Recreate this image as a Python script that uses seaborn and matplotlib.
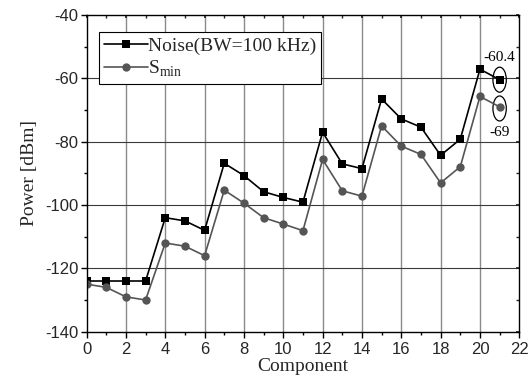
import matplotlib
matplotlib.use("Agg")
import matplotlib.pyplot as plt
from matplotlib.patches import Ellipse
from matplotlib.ticker import MultipleLocator
import numpy as np
import pandas as pd
import seaborn as sns

components = list(range(22))
noise = [-124, -124, -124, -124, -104, -105, -108, -86.8, -90.7, -95.8, -97.6, -99.1,
         -77.0, -87.0, -88.5, -66.5, -72.8, -75.4, -84.3, -79.2, -57.1, -60.4]
smin = [-125, -126, -129, -130, -112, -113, -116, -95.3, -99.4, -104, -106, -108.1,
        -85.6, -95.5, -97.2, -75.0, -81.4, -84.0, -93.0, -87.9, -65.7, -69.0]
series_names = ["Noise(BW=100 kHz)", "S$_\\mathregular{min}$"]
annot_labels = ["-60.4", "-69"]

df = pd.DataFrame({
    "Component": components * 2,
    "Power": noise + smin,
    "Series": [series_names[0]] * len(noise) + [series_names[1]] * len(smin),
})

sns.set_theme(style="white")
plt.rcParams["font.family"] = ["Liberation Sans", "DejaVu Sans"]
plt.rcParams["axes.unicode_minus"] = False

fig = plt.figure(figsize=(5.28, 3.87), dpi=100)
ax = fig.add_axes([0.164, 0.143, 0.8195, 0.818])

sns.lineplot(data=df, x="Component", y="Power", hue="Series", style="Series",
             palette=["black", "#555555"], markers=["s", "o"], dashes=False,
             markersize=6, markeredgewidth=0, linewidth=1.2, ax=ax, legend=True)

ax.set_xlim(0, 22)
ax.set_ylim(-140, -40)
ax.xaxis.set_major_locator(MultipleLocator(2))
ax.xaxis.set_minor_locator(MultipleLocator(1))
ax.yaxis.set_major_locator(MultipleLocator(20))
ax.yaxis.set_minor_locator(MultipleLocator(10))

for xv in range(2, 22, 2):
    ax.axvline(xv, color="#8a8a8a", lw=1.0, zorder=0)
for yv in range(-120, -40, 20):
    ax.axhline(yv, color="#3a3a3a", lw=0.8, zorder=0)

for s in ax.spines.values():
    s.set_color("black")
    s.set_linewidth(1.0)

ax.tick_params(axis="both", which="major", direction="out", length=4, width=1,
               color="black", labelsize=12, pad=2, bottom=True, left=True)
ax.tick_params(axis="x", which="major", pad=3.5)
ax.tick_params(axis="both", which="minor", direction="out", length=2.5, width=1,
               color="black", bottom=True, left=True)

top = ax.secondary_xaxis("top")
top.xaxis.set_major_locator(MultipleLocator(2))
top.xaxis.set_minor_locator(MultipleLocator(1))
top.tick_params(which="both", direction="in", length=2.5, labeltop=False)
right = ax.secondary_yaxis("right")
right.yaxis.set_major_locator(MultipleLocator(20))
right.yaxis.set_minor_locator(MultipleLocator(10))
right.tick_params(which="both", direction="in", length=2.5, labelright=False)
for sa in (top, right):
    for s in sa.spines.values():
        s.set_visible(False)

ax.set_xlabel("Component", family="Liberation Serif", fontsize=14, labelpad=1)
ax.set_ylabel("Power [dBm]", family="Liberation Serif", fontsize=14, labelpad=5)

leg = ax.legend(loc="upper left", bbox_to_anchor=(0.028, 0.946), frameon=True,
                fancybox=False, edgecolor="black", framealpha=1,
                prop={"family": "Liberation Serif", "size": 14},
                handlelength=2.3, handletextpad=0.0, borderpad=0.25,
                labelspacing=0.2, borderaxespad=0)
leg.get_frame().set_linewidth(0.8)

# ellipses around last points
ax.add_patch(Ellipse((components[-1], noise[-1]), 0.68, 7.9, fill=False,
                     edgecolor="black", lw=0.9))
ax.add_patch(Ellipse((components[-1], smin[-1] - 0.5), 0.68, 7.9, fill=False,
                     edgecolor="black", lw=0.9))
ax.text(21.0, -53.3, annot_labels[0], family="Liberation Serif", fontsize=11,
        ha="center", va="center", color="black")
ax.text(21.0, -77.0, annot_labels[1], family="Liberation Serif", fontsize=11,
        ha="center", va="center", color="black")

fig.savefig("out.png", dpi=100)
